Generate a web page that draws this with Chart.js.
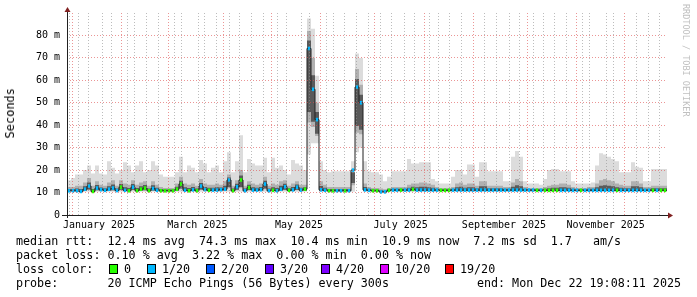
<!DOCTYPE html>
<html>
<head>
<meta charset="utf-8">
<script src="https://cdn.jsdelivr.net/npm/chart.js@4.4.1/dist/chart.umd.min.js"></script>
<style>
html, body { margin: 0; padding: 0; background: #fff; }
#wrap { position: relative; width: 697px; height: 297px; overflow: hidden; font-family: "DejaVu Sans Mono", monospace; }
#graph { position: absolute; left: 0; top: 0; }
.t { position: absolute; white-space: pre; font-size: 11.7px; line-height: 14px; color: #000; }
.box { position: absolute; width: 7px; height: 8px; border: 1px solid #000; }
#ytitle { position: absolute; left: 3px; top: 88px; font-size: 12px; writing-mode: vertical-rl; transform: rotate(180deg); color: #000; }
#wm { position: absolute; left: 681px; top: 4px; font-size: 8.5px; writing-mode: vertical-rl; color: #c0c0c0; white-space: pre; }
</style>
</head>
<body>
<div id="wrap">
<canvas id="graph" width="697" height="297"></canvas>
<div id="ytitle">Seconds</div>
<div id="wm">RRDTOOL / TOBI OETIKER</div>
<div class="t" style="left:16px;top:234px">median rtt:  12.4 ms avg  74.3 ms max  10.4 ms min  10.9 ms now  7.2 ms sd  1.7   am/s</div>
<div class="t" style="left:16px;top:248px">packet loss: 0.10 % avg  3.22 % max  0.00 % min  0.00 % now</div>
<div class="t" style="left:16px;top:262px">loss color:</div>
<div id="lossLegend"></div>
<div class="t" style="left:16px;top:276px">probe:       20 ICMP Echo Pings (56 Bytes) every 300s</div>
<div class="t" style="right:16px;top:276px">end: Mon Dec 22 19:08:11 2025</div>
</div>
<script>
// fenêtre de temps : jours depuis le 1er janvier 2025, un pas = 2,4 jours
const firstBinDay = -4.2;
const binDays = 2.4;

// médiane du rtt (ms) par pas
const medianRtt = [
  10.8, 10.8, 10.8, 10.5, 11.5, 12.9, 10.5, 12.0, 11.3, 11.0,
  11.5, 12.0, 10.9, 12.4, 11.0, 10.8, 12.4, 10.8, 11.5, 12.0,
  10.8, 11.8, 11.0, 10.8, 10.8, 10.8, 10.8, 11.5, 13.8, 11.0,
  10.8, 11.2, 10.8, 12.9, 11.3, 11.0, 11.1, 11.1, 11.3, 11.5,
  15.6, 10.8, 12.6, 15.6, 10.8, 12.2, 11.1, 11.1, 11.3, 13.8,
  10.8, 11.0, 10.8, 11.5, 12.6, 11.0, 11.2, 12.4, 11.1, 11.5,
  74.2, 56.0, 42.5, 11.2, 11.0, 10.8, 10.8, 10.8, 10.8, 10.8,
  10.8, 20.0, 57.0, 50.0, 11.2, 11.0, 10.8, 10.8, 10.3, 10.3,
  11.0, 11.1, 11.1, 11.1, 11.1, 11.1, 11.4, 11.1, 11.1, 11.1,
  11.1, 11.1, 11.1, 11.0, 11.0, 11.0, 11.1, 11.1, 11.1, 11.1,
  11.1, 11.1, 11.1, 11.1, 11.1, 11.1, 11.1, 11.1, 11.1, 11.1,
  11.1, 11.1, 11.1, 11.1, 11.1, 11.1, 11.1, 11.0, 11.0, 11.0,
  11.0, 11.0, 11.0, 11.0, 11.0, 11.0, 11.0, 11.0, 11.0, 11.0,
  11.0, 11.0, 11.0, 11.0, 11.0, 11.0, 11.0, 11.0, 11.0, 11.0,
  11.0, 11.0, 11.0, 11.0, 11.0, 11.0, 11.0, 11.0, 11.0, 11.0
];

// pings perdus sur 20 par pas
const lossCount = [
  1, 1, 1, 1, 1, 1, 0, 1, 1, 1,
  1, 1, 1, 0, 1, 0, 1, 0, 0, 0,
  0, 1, 1, 0, 0, 0, 0, 0, 0, 1,
  0, 1, 0, 1, 1, 0, 1, 1, 1, 1,
  1, 0, 1, 0, 1, 0, 1, 1, 1, 1,
  1, 0, 1, 1, 1, 0, 1, 1, 1, 0,
  1, 1, 1, 1, 1, 0, 0, 1, 1, 0,
  1, 1, 1, 1, 1, 1, 0, 0, 1, 1,
  0, 1, 1, 0, 1, 1, 0, 1, 1, 1,
  1, 1, 1, 0, 0, 0, 1, 1, 1, 1,
  1, 1, 1, 1, 1, 1, 1, 1, 1, 1,
  1, 1, 1, 1, 1, 1, 1, 0, 1, 0,
  0, 0, 0, 1, 1, 1, 1, 1, 0, 1,
  1, 1, 1, 1, 1, 1, 1, 0, 1, 1,
  1, 1, 1, 1, 1, 1, 0, 1, 0, 0
];

// fumée : ping le plus bas, quartile haut, ping le plus haut (ms)
const smokeLow = [
  10.4, 10.4, 10.4, 10.4, 10.4, 10.4, 10.4, 10.4, 10.4, 10.4,
  10.4, 10.4, 10.4, 10.4, 10.4, 10.4, 10.4, 10.4, 10.4, 10.4,
  10.4, 10.4, 10.4, 10.4, 10.4, 10.4, 10.4, 10.4, 10.4, 10.4,
  10.4, 10.4, 10.4, 10.4, 10.4, 10.4, 10.4, 10.4, 10.4, 10.4,
  10.4, 10.4, 10.4, 10.4, 10.4, 10.4, 10.4, 10.4, 10.4, 10.4,
  10.4, 10.4, 10.4, 10.4, 10.4, 10.4, 10.4, 10.4, 10.4, 10.4,
  27.0, 32.0, 32.0, 10.4, 10.4, 10.4, 10.4, 10.4, 10.4, 10.4,
  10.4, 10.4, 28.0, 30.0, 10.4, 10.4, 10.4, 10.4, 10.0, 10.0,
  10.4, 10.4, 10.4, 10.4, 10.4, 10.4, 10.4, 10.4, 10.4, 10.4,
  10.4, 10.4, 10.4, 10.4, 10.4, 10.4, 10.4, 10.4, 10.4, 10.4,
  10.4, 10.4, 10.4, 10.4, 10.4, 10.4, 10.4, 10.4, 10.4, 10.4,
  10.4, 10.4, 10.4, 10.4, 10.4, 10.4, 10.4, 10.4, 10.4, 10.4,
  10.4, 10.4, 10.4, 10.4, 10.4, 10.4, 10.4, 10.4, 10.4, 10.4,
  10.4, 10.4, 10.4, 10.4, 10.4, 10.4, 10.4, 10.4, 10.4, 10.4,
  10.4, 10.4, 10.4, 10.4, 10.4, 10.4, 10.4, 10.4, 10.4, 10.4
];

const smokeMid = [
  12.5, 12.5, 13, 13, 14.5, 16.5, 13, 15, 13.5, 13,
  14.5, 15.5, 13, 15.5, 14, 13.5, 15.5, 13.5, 14.5, 15,
  13, 15, 13.5, 12.5, 12, 12, 12, 14, 17, 14,
  13.5, 14, 13, 16, 14, 13.5, 13.5, 14, 13.5, 15,
  18, 13, 15.5, 20, 13, 15, 14, 13.5, 14, 17,
  13, 14, 13.5, 15, 15.5, 13, 14, 15, 13.5, 13.5,
  82, 70, 50, 15, 13.5, 12.5, 12.5, 12.5, 12.5, 12.5,
  12.5, 18, 65, 58, 14, 12.5, 12, 12, 11.8, 11.5,
  12, 12.5, 12.5, 12.5, 12.5, 13.5, 14, 14, 14.5, 14.5,
  14, 13.5, 12.5, 12, 12, 12, 12.5, 14, 14.5, 13.5,
  14, 14, 13, 15, 15, 13, 13, 13, 13, 12.5,
  12.5, 14.5, 16, 15, 12.5, 12, 12, 12, 12, 12.5,
  13, 13.5, 13.5, 14, 14, 13.5, 12.5, 12, 12, 12,
  12.5, 12.5, 14, 15.5, 16, 15.5, 15, 14, 13.5, 13,
  13, 15, 15, 14, 12.5, 12.5, 13, 13, 13, 13
];

const smokeHigh = [
  15.5, 16.5, 18, 18, 20, 22, 18.5, 22, 18.5, 18,
  24, 21, 18.5, 20, 23.5, 22, 19, 22, 24, 19,
  20, 24, 22, 18, 17, 17, 17, 19, 26, 19,
  22, 21, 19, 24.5, 23, 19, 21, 22, 19, 24,
  28, 19, 24, 35.5, 19, 25, 23, 22, 22, 25.5,
  19, 25.5, 21, 22, 20, 18, 24.5, 23, 22, 20,
  87.5, 83, 62, 24, 20, 19, 19.5, 19.5, 19.5, 19.5,
  19.5, 24, 72, 70, 24, 19.5, 19, 19, 18, 15,
  17, 19.5, 19.5, 19.5, 19.5, 25, 23, 23, 23.5, 23.5,
  23.5, 16, 15, 14, 14, 14, 17, 20, 20, 18,
  22.5, 22.5, 17, 23.5, 23.5, 19.5, 19.5, 19.5, 19.5, 15,
  15, 26, 28.5, 26, 15, 14, 14, 14, 13.5, 16,
  20, 20.5, 20.5, 19.5, 19.5, 19.5, 15, 14, 14, 14,
  14, 14.5, 22, 27.5, 27, 26, 25, 24, 19, 19,
  19, 23.5, 21.5, 21, 15, 15, 20.5, 20.5, 20.5, 20.5
];

// axe du temps
const monthStarts = [0, 31, 59, 90, 120, 151, 181, 212, 243, 273, 304, 334];
const monthLabels = ["January 2025", "March 2025", "May 2025", "July 2025", "September 2025", "November 2025"];
const monthLabelDays = [15, 74, 135, 196, 258, 319];
const firstMonday = -2;  // lundi 30 décembre 2024
const yLabels = ["0", "10 m", "20 m", "30 m", "40 m", "50 m", "60 m", "70 m", "80 m"];

// légende des pertes
const lossLevels = ["0", "1/20", "2/20", "3/20", "4/20", "10/20", "19/20"];
const lossColors = ["#26ff00", "#00b8ff", "#0059ff", "#5e00ff", "#7e00ff", "#dd00ff", "#ff0000"];
const lossLegendX = [109, 147, 206, 265, 321, 380, 445];

const legend = document.getElementById("lossLegend");
for (let i = 0; i < lossLevels.length; i++) {
  const b = document.createElement("div");
  b.className = "box";
  b.style.left = lossLegendX[i] + "px";
  b.style.top = "264px";
  b.style.background = lossColors[i];
  legend.appendChild(b);
  const t = document.createElement("div");
  t.className = "t";
  t.style.left = (lossLegendX[i] + 15) + "px";
  t.style.top = "262px";
  t.textContent = lossLevels[i];
  legend.appendChild(t);
}

const lastDay = firstBinDay + medianRtt.length * binDays;
const binEdge = i => firstBinDay + i * binDays;
function steps(values) {
  const pts = values.map((v, i) => ({ x: binEdge(i), y: v }));
  pts.push({ x: binEdge(values.length), y: values[values.length - 1] });
  return pts;
}
// couches de fumée, plus sombres près de la médiane
const midLow = medianRtt.map((m, i) => smokeLow[i] + (m - smokeLow[i]) * 0.3);
const darkLow = medianRtt.map((m, i) => m - (m - smokeLow[i]) * 0.6);
const darkHigh = medianRtt.map((m, i) => m + (smokeMid[i] - m) * 0.45);
const lossBoxes = medianRtt.map((m, i) => ({ x: binEdge(i) + binDays / 2, y: [m - 0.66, m + 0.66] }));

// graduations : lundis (gris), débuts de mois (rouge), étiquettes au milieu du mois
const xTicks = [];
for (let d = firstMonday; d <= lastDay; d += 7) {
  if (monthStarts.indexOf(d) < 0) xTicks.push({ value: d, kind: "week" });
}
monthStarts.forEach(d => xTicks.push({ value: d, kind: "month" }));
monthLabelDays.forEach((d, i) => xTicks.push({ value: d, kind: "label", text: monthLabels[i] }));
xTicks.sort((a, b) => a.value - b.value);

const minorGrid = "rgba(143,143,143,0.6)";
const majorGrid = "rgba(222,79,79,0.6)";
const noGrid = "rgba(0,0,0,0)";

const axesPlugin = {
  id: "axes",
  afterDraw(chart) {
    const ctx = chart.ctx;
    const a = chart.chartArea;
    ctx.save();
    ctx.strokeStyle = "#202020";
    ctx.lineWidth = 1;
    ctx.beginPath();
    ctx.moveTo(a.left - 5, a.bottom + 0.5);
    ctx.lineTo(a.right + 2, a.bottom + 0.5);
    ctx.moveTo(a.left + 0.5, a.bottom + 3);
    ctx.lineTo(a.left + 0.5, a.top - 1);
    ctx.stroke();
    ctx.fillStyle = "#802020";
    ctx.beginPath();
    ctx.moveTo(a.left - 2.5, a.top - 1);
    ctx.lineTo(a.left + 3.5, a.top - 1);
    ctx.lineTo(a.left + 0.5, a.top - 6);
    ctx.closePath();
    ctx.fill();
    ctx.beginPath();
    ctx.moveTo(a.right + 1, a.bottom - 2.5);
    ctx.lineTo(a.right + 1, a.bottom + 3.5);
    ctx.lineTo(a.right + 6, a.bottom + 0.5);
    ctx.closePath();
    ctx.fill();
    ctx.restore();
  }
};

const lineBase = { pointRadius: 0, borderWidth: 0, borderColor: "rgba(0,0,0,0)", stepped: true, tension: 0 };

new Chart(document.getElementById("graph"), {
  type: "line",
  data: {
    datasets: [
      { ...lineBase, data: steps(smokeLow), fill: false, order: 20 },
      { ...lineBase, data: steps(smokeHigh), fill: 0, backgroundColor: "#dcdcdc", order: 19 },
      { ...lineBase, data: steps(midLow), fill: false, order: 18 },
      { ...lineBase, data: steps(smokeMid), fill: 2, backgroundColor: "#b0b0b0", order: 17 },
      { ...lineBase, data: steps(darkLow), fill: false, order: 16 },
      { ...lineBase, data: steps(darkHigh), fill: 4, backgroundColor: "#5a5a5a", order: 15 },
      { ...lineBase, data: steps(medianRtt), fill: false, borderWidth: 1, borderColor: "#202020", order: 2 },
      {
        type: "bar",
        data: lossBoxes,
        backgroundColor: lossCount.map(l => lossColors[l]),
        borderWidth: 0,
        barPercentage: 1,
        categoryPercentage: 1,
        order: 1
      }
    ]
  },
  options: {
    responsive: false,
    devicePixelRatio: 1,
    animation: false,
    events: [],
    layout: { padding: { left: 0, top: 12, right: 30, bottom: 0 } },
    plugins: { legend: { display: false }, tooltip: { enabled: false } },
    scales: {
      x: {
        type: "linear",
        min: firstBinDay,
        max: lastDay,
        offset: false,
        afterFit: s => { s.height = 82; },
        afterBuildTicks: s => { s.ticks = xTicks.map(t => ({ ...t })); },
        border: { display: false, dash: [1, 2] },
        grid: {
          z: 1,
          drawTicks: false,
          color: c => c.tick && c.tick.kind === "month" ? majorGrid : (c.tick && c.tick.kind === "week" ? minorGrid : noGrid)
        },
        ticks: {
          autoSkip: false,
          maxRotation: 0,
          minRotation: 0,
          padding: 4,
          color: "#000",
          font: { family: "DejaVu Sans Mono", size: 10 },
          callback: (v, i, ticks) => ticks[i].kind === "label" ? ticks[i].text : ""
        }
      },
      y: {
        type: "linear",
        min: 0,
        max: 90,
        afterFit: s => { s.width = 67; },
        border: { display: false, dash: [1, 2] },
        grid: {
          z: 1,
          drawTicks: false,
          color: c => {
            const v = c.tick ? c.tick.value : 0;
            if (v === 0 || v >= 90) return noGrid;
            return v % 10 === 0 ? majorGrid : minorGrid;
          }
        },
        ticks: {
          stepSize: 5,
          padding: 7,
          color: "#000",
          font: { family: "DejaVu Sans Mono", size: 10 },
          callback: v => (v % 10 === 0 && v / 10 < yLabels.length) ? yLabels[v / 10] : ""
        }
      }
    }
  },
  plugins: [axesPlugin]
});
</script>
</body>
</html>
